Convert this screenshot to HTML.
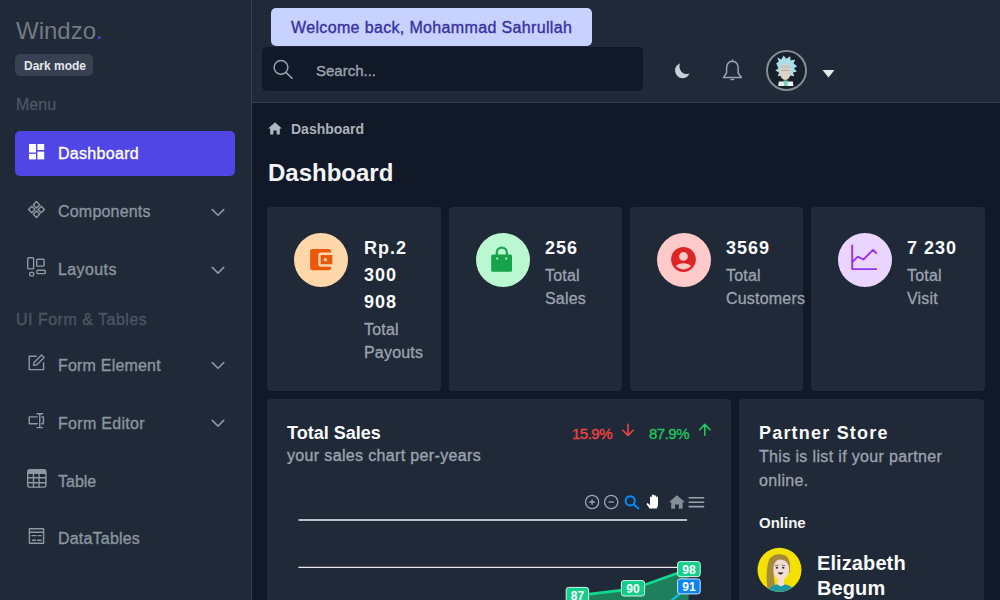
<!DOCTYPE html>
<html><head><meta charset="utf-8">
<style>
*{box-sizing:border-box;margin:0;padding:0}
html,body{width:1000px;height:600px;overflow:hidden;background:#111827;font-family:"Liberation Sans",sans-serif}
.t{position:absolute;line-height:1;white-space:nowrap}
.m{-webkit-text-stroke:0.35px currentColor}
.abs{position:absolute}
#side{position:absolute;left:0;top:0;width:252px;height:600px;background:#1f2937;border-right:1px solid #343d4a}
#head{position:absolute;left:252px;top:0;width:748px;height:103px;background:#1f2937;border-bottom:1px solid #343d4a}
.card{position:absolute;background:#1f2937;border-radius:4px}
.mi{color:#8b949f;font-size:16px;-webkit-text-stroke:0.35px currentColor}
.sec{color:#4b5563;font-size:16px;-webkit-text-stroke:0.35px currentColor}
.num{position:absolute;font-size:18px;font-weight:700;line-height:26.8px;color:#f9fafb;letter-spacing:1px}
.lbl{position:absolute;font-size:16px;line-height:22.6px;color:#9ca3af;letter-spacing:0.2px;-webkit-text-stroke:0.3px currentColor}
#ov{position:absolute;left:0;top:0;overflow:visible}
</style></head><body>
<div id="side">
  <div class="t" style="left:16px;top:19px;font-size:24px;color:#737a83">Windzo<span style="color:#4f46e5">.</span></div>
  <div class="abs" style="left:15px;top:54px;width:78px;height:22px;background:#374151;border-radius:5px"></div>
  <div class="t" style="left:24px;top:60px;font-size:12px;font-weight:700;color:#e5e7eb">Dark mode</div>
  <div class="t sec" style="left:16px;top:96.5px">Menu</div>
  <div class="abs" style="left:15px;top:131px;width:220px;height:45px;background:#4f46e5;border-radius:5px"></div>
  <div class="t mi" style="left:58px;top:146px;color:#fff;letter-spacing:0.3px">Dashboard</div>
  <div class="t mi" style="left:58px;top:204px;letter-spacing:0.2px">Components</div>
  <div class="t mi" style="left:58px;top:261.5px;letter-spacing:0.4px">Layouts</div>
  <div class="t sec" style="left:16px;top:311.5px;letter-spacing:0.5px">UI Form &amp; Tables</div>
  <div class="t mi" style="left:58px;top:357.5px;letter-spacing:0.2px">Form Element</div>
  <div class="t mi" style="left:58px;top:415.5px;letter-spacing:0.3px">Form Editor</div>
  <div class="t mi" style="left:58px;top:473.5px">Table</div>
  <div class="t mi" style="left:58px;top:530.5px;letter-spacing:0.2px">DataTables</div>
</div>
<div id="head">
  <div class="abs" style="left:19px;top:8px;width:321px;height:38px;background:#c7d2fe;border-radius:5px"></div>
  <div class="t m" style="left:39px;top:19.5px;font-size:16px;color:#3730a3;letter-spacing:0.35px">Welcome back, Mohammad Sahrullah</div>
  <div class="abs" style="left:10px;top:47px;width:381px;height:44px;background:#111827;border-radius:5px"></div>
  <div class="t m" style="left:64px;top:63px;font-size:15px;color:#9ca3af">Search...</div>
  <div class="abs" style="left:513.5px;top:49.6px;width:41px;height:41px;border-radius:50%;border:2px solid #858c94;background:#18202b"></div>
</div>
<div class="t" style="left:291px;top:122px;font-size:14px;font-weight:700;color:#aab1bb">Dashboard</div>
<div class="t" style="left:268px;top:160.7px;font-size:24px;font-weight:700;color:#f3f4f6">Dashboard</div>

<div class="card" style="left:267px;top:207px;width:174px;height:184px"></div>
<div class="card" style="left:449px;top:207px;width:173px;height:184px"></div>
<div class="card" style="left:630px;top:207px;width:173px;height:184px"></div>
<div class="card" style="left:811px;top:207px;width:174px;height:184px"></div>

<div class="abs" style="left:294px;top:233px;width:54px;height:54px;border-radius:50%;background:#fed7aa"></div>
<div class="abs" style="left:476px;top:233px;width:54px;height:54px;border-radius:50%;background:#bbf7d0"></div>
<div class="abs" style="left:657px;top:233px;width:54px;height:54px;border-radius:50%;background:#fecaca"></div>
<div class="abs" style="left:838px;top:233px;width:54px;height:54px;border-radius:50%;background:#e9d5ff"></div>

<div class="num" style="left:364px;top:235px">Rp.2<br>300<br>908</div>
<div class="lbl" style="left:364px;top:319.2px">Total<br>Payouts</div>
<div class="num" style="left:545px;top:235px">256</div>
<div class="lbl" style="left:545px;top:265.4px">Total<br>Sales</div>
<div class="num" style="left:726px;top:235px">3569</div>
<div class="lbl" style="left:726px;top:265.4px">Total<br>Customers</div>
<div class="num" style="left:907px;top:235px">7 230</div>
<div class="lbl" style="left:907px;top:265.4px">Total<br>Visit</div>

<div class="card" style="left:267px;top:399px;width:464px;height:220px"></div>
<div class="card" style="left:739px;top:399px;width:245px;height:220px"></div>

<div class="t" style="left:287px;top:423.8px;font-size:18px;font-weight:700;color:#f9fafb">Total Sales</div>
<div class="t m" style="left:287px;top:448px;font-size:16px;color:#9ca3af;letter-spacing:0.35px">your sales chart per-years</div>
<div class="t m" style="left:572px;top:426px;font-size:15px;color:#ef4444;letter-spacing:-0.5px">15.9%</div>
<div class="t m" style="left:649px;top:426px;font-size:15px;color:#22c55e;letter-spacing:-0.5px">87.9%</div>

<div class="t" style="left:759px;top:423.8px;font-size:18px;font-weight:700;color:#f9fafb;letter-spacing:1.2px">Partner Store</div>
<div class="lbl" style="left:759px;top:445px;line-height:23.5px;width:215px;white-space:normal;letter-spacing:0.35px">This is list if your partner<br>online.</div>
<div class="t" style="left:759px;top:515px;font-size:15px;font-weight:700;color:#f3f4f6">Online</div>
<div class="abs" style="left:817px;top:551px;font-size:20px;font-weight:700;line-height:24.75px;color:#f9fafb;letter-spacing:0.1px">Elizabeth<br>Begum</div>

<svg id="ov" width="1000" height="600" viewBox="0 0 1000 600">
  <!-- sidebar icons -->
  <g fill="#fff">
    <rect x="29" y="144" width="7" height="8.5"/>
    <rect x="29" y="153.8" width="7" height="5.6"/>
    <rect x="37.4" y="144" width="6.8" height="6"/>
    <rect x="37.4" y="151.6" width="6.8" height="7.8"/>
  </g>
  <g fill="none" stroke="#8e97a2" stroke-width="1.4" stroke-linejoin="round" stroke-linecap="round">
    <path d="M36.5 201.6 L39.7 204.8 L36.5 208 L33.3 204.8 Z M31.75 206.3 L34.95 209.5 L31.75 212.7 L28.55 209.5 Z M41.25 206.3 L44.45 209.5 L41.25 212.7 L38.05 209.5 Z M36.5 211 L39.7 214.2 L36.5 217.4 L33.3 214.2 Z"/>
    <rect x="27.7" y="257.7" width="5.9" height="11.2" rx="0.8"/>
    <rect x="36.7" y="259.2" width="7.4" height="6.9" rx="0.8"/>
    <rect x="29.7" y="272.4" width="3.9" height="3.5" rx="0.8"/>
    <rect x="36.9" y="270.2" width="8.4" height="3.4" rx="0.8"/>
    <path d="M36.2 356.2 H29.2 V369.6 H43.6 V362.6"/>
    <path d="M33.6 365.3 L34.1 362.4 L41.6 354.9 L44.1 357.4 L36.6 364.9 Z"/>
    <path d="M37.2 416.9 H29.2 V423.8 H37.2 M41.8 416.9 H43.4 V423.8 H41.8 M39.75 413.8 V427.6 M37 413.8 H42.6 M37 427.6 H42.6"/>
    <rect x="27.7" y="469.7" width="18.2" height="17.4" rx="2.2"/>
    <path d="M27.7 473.4 H45.9 M33.5 473.4 V487 M39.1 473.4 V487 M27.7 477.8 H45.9 M27.7 482.7 H45.9"/>
    <rect x="29.4" y="528.7" width="14.2" height="14.6"/>
    <path d="M29.4 532.3 H43.6 M32 535.6 H36 M38 535.6 H41 M32.5 540.3 H35.5 M37.5 540.3 H41.2"/>
  </g>
  <g fill="#fff" fill-opacity="0" stroke="none"></g>
  <rect x="27.7" y="469.7" width="18.2" height="3.7" rx="1.5" fill="#8e97a2"/>
  <g fill="none" stroke="#8e97a2" stroke-width="1.6" stroke-linecap="round" stroke-linejoin="round">
    <path d="M212.3 209.6 L218 215.3 L223.7 209.6"/>
    <path d="M212.3 267.4 L218 273.1 L223.7 267.4"/>
    <path d="M212.3 362.6 L218 368.3 L223.7 362.6"/>
    <path d="M212.3 420.4 L218 426.1 L223.7 420.4"/>
  </g>
  <!-- header icons -->
  <g fill="none" stroke="#9ca3af" stroke-width="1.5" stroke-linecap="round">
    <circle cx="281" cy="67.3" r="6.9"/>
    <path d="M286.2 72.6 L292 78.3"/>
    <path d="M732.4 61.2 C728.4 61.4 726.6 64.4 726.6 68.4 V73 L723.4 77.6 H741.4 L738.2 73 V68.4 C738.2 64.4 736.4 61.4 732.4 61.2 Z M732.4 61.2 V60" stroke-linejoin="round"/>
    <path d="M731.2 79.6 H733.6"/>
  </g>
  <mask id="moonm"><rect x="660" y="50" width="40" height="40" fill="#fff"/><circle cx="686.9" cy="66.6" r="7.5" fill="#000"/></mask><circle cx="682.6" cy="70.6" r="7.6" fill="#c9cfd8" mask="url(#moonm)"/>
  <path d="M822.5 70 H834.5 L828.5 77.6 Z" fill="#e5e7eb"/>
  <!-- rick -->
  <clipPath id="rkc"><circle cx="785.8" cy="70.1" r="19"/></clipPath>
  <g clip-path="url(#rkc)">
    <path d="M776.2 63.5 L778.8 61.6 L777.2 57.6 L781.4 59.4 L783.6 55.6 L786.2 58.8 L790.2 56.2 L790.6 60.4 L795.2 59.4 L793.6 63.6 L797.2 66.2 L794 68.2 L796.8 71.6 L793 72.4 L794.2 76.2 L790 75.4 L786 78 L782 75.4 L777.8 76.2 L779 72.4 L775.4 70.6 L778.4 68.2 Z" fill="#a9dde9"/>
    <path d="M785.3 63.4 C789 63.4 791 66 791 70.5 C791 75.8 788.6 80 785.3 80 C782 80 779.6 75.8 779.6 70.5 C779.6 66 781.6 63.4 785.3 63.4 Z" fill="#ddd3c6"/>
    <path d="M780.4 66.4 Q785.3 64.2 790.2 66.4 L790 68.4 Q785.3 66.6 780.6 68.4 Z" fill="#b9c4c4"/>
    <path d="M781 70.4 H789.6" stroke="#9a9a9a" stroke-width="0.7"/>
    <path d="M778.8 81.4 H792.8 L793.4 86 H778.2 Z" fill="#eef2f2"/>
    <path d="M783.6 80.6 H787.8 L787.4 86 H784 Z" fill="#7ad0b8"/>
  </g>
  <!-- breadcrumb home -->
  <path d="M275 122.2 L268.2 128.4 H270.2 V134.6 H273.4 V130.6 H276.6 V134.6 H279.8 V128.4 H281.8 Z" fill="#b0b7c2"/>
  <!-- card icons -->
  <path transform="translate(306.6 245.6) scale(1.17)" fill="#ea580c" d="M21 18v1c0 1.1-.9 2-2 2H5c-1.11 0-2-.9-2-2V5c0-1.1.89-2 2-2h14c1.1 0 2 .9 2 2v1h-9c-1.11 0-2 .9-2 2v8c0 1.1.89 2 2 2h9zm-9-2h10V8H12v8zm4-2.5c-.83 0-1.5-.67-1.5-1.5s.67-1.5 1.5-1.5 1.5.67 1.5 1.5-.67 1.5-1.5 1.5z"/>
  <g fill="#16a34a">
    <path d="M496.8 255 V252.6 A5 5 0 0 1 506.8 252.6 V255" fill="none" stroke="#16a34a" stroke-width="2.2"/>
    <rect x="491.2" y="254.4" width="20.8" height="17.4" rx="1.6"/>
  </g>
  <circle cx="497.2" cy="258.6" r="1.1" fill="#bbf7d0"/>
  <circle cx="506.3" cy="258.6" r="1.1" fill="#bbf7d0"/>
  <path transform="translate(668.6 244.6) scale(1.24)" fill="#dc2626" d="M12 2C6.48 2 2 6.48 2 12s4.48 10 10 10 10-4.48 10-10S17.52 2 12 2zm0 4c1.93 0 3.5 1.57 3.5 3.5S13.93 13 12 13s-3.5-1.57-3.5-3.5S10.07 6 12 6zm0 14c-2.03 0-4.43-.82-6.14-2.88C7.55 15.8 9.68 15 12 15s4.45.8 6.14 2.12C16.43 19.18 14.03 20 12 20z"/>
  <g fill="none" stroke="#9333ea" stroke-width="1.9" stroke-linecap="round" stroke-linejoin="round">
    <path d="M852.2 245.4 V269.1 H876.2"/>
    <path d="M852.7 261.6 L857.8 256.6 L863.4 259.5 L873 249.9 L876.2 253"/>
  </g>
  <!-- change arrows -->
  <g fill="none" stroke-width="1.6" stroke-linecap="round" stroke-linejoin="round">
    <path d="M628 424.2 V435.3 M622.8 430.2 L628 435.4 L633.2 430.2" stroke="#ef4444"/>
    <path d="M704.8 435.2 V424.5 M699.7 429.6 L704.8 424.4 L709.9 429.6" stroke="#22c55e"/>
  </g>
  <!-- chart toolbar -->
  <g fill="none" stroke="#9ca3af" stroke-width="1.3">
    <circle cx="592.1" cy="502" r="6.6"/>
    <path d="M592.1 499.2 V504.8 M589.3 502 H594.9"/>
    <circle cx="611.2" cy="502" r="6.6"/>
    <path d="M608.4 502 H614"/>
  </g>
  <g fill="none" stroke="#008ffb" stroke-width="2">
    <circle cx="630.2" cy="500.8" r="4.6"/>
    <path d="M633.6 504.3 L639 509"/>
  </g>
  <path d="M649.5 508.6 L646.4 504 L647.6 503.1 L650 505.1 V497.4 A1 1 0 0 1 652 497.4 V495.6 A1 1 0 0 1 654 495.6 V496.3 A1 1 0 0 1 656 496.3 V497.6 A1 1 0 0 1 658 497.6 V505.6 L656.8 508.6 Z" fill="#fff"/>
  <path d="M676.9 495.2 L668.8 502.2 H671.2 V508.8 H675 V504.6 H678.8 V508.8 H682.6 V502.2 H685 Z" fill="#858d97"/>
  <g stroke="#9ca3af" stroke-width="1.6">
    <path d="M688.6 497.8 H704.2 M688.6 502.3 H704.2 M688.6 506.6 H704.2"/>
  </g>
  <!-- chart grid + series -->
  <path d="M298.4 520 H687" stroke="#b9bec5" stroke-width="1.8"/>
  <path d="M298.4 567.4 H687" stroke="#e5e7eb" stroke-width="1.3"/>
  <path d="M521 650 L577 595.6 L633 589 L688.6 569.3 V601 Z" fill="#1d7f5c"/>
  <path d="M521 650 L577 595.6 L633 589 L688.6 569.3" fill="none" stroke="#13d98f" stroke-width="2.8"/>
  <path d="M671 601 L688.6 586.5" stroke="#16b6cf" stroke-width="2.6"/>
  <g font-family="Liberation Sans" font-weight="700" font-size="12" fill="#fff" text-anchor="middle">
    <rect x="566.2" y="587.4" width="22.4" height="15.4" rx="2.5" fill="#14cf8a" stroke="#d5f5e8" stroke-width="1"/>
    <text x="577.4" y="599.6">87</text>
    <rect x="621.4" y="580.6" width="23.2" height="15.4" rx="2.5" fill="#14cf8a" stroke="#d5f5e8" stroke-width="1"/>
    <text x="633" y="592.8">90</text>
    <rect x="677.6" y="561.6" width="22.6" height="15" rx="2.5" fill="#14cf8a" stroke="#d5f5e8" stroke-width="1"/>
    <text x="688.9" y="573.6">98</text>
    <rect x="677.6" y="578.9" width="22.6" height="15" rx="2.5" fill="#0a84f0" stroke="#cfe6fb" stroke-width="1"/>
    <text x="688.9" y="590.9">91</text>
  </g>
  <!-- partner avatar -->
  <clipPath id="avc"><circle cx="779.5" cy="569.8" r="22"/></clipPath>
  <circle cx="779.5" cy="569.8" r="22" fill="#f5e100"/>
  <g clip-path="url(#avc)">
    <path d="M767.5 589 C766 578 766.5 566 769 560 C772 554 781 553 786 556 C790 559 790.5 565 790 572 L786 575 L779 561 L774 566 C773 574 774 582 776 588 Z" fill="#a38a3c"/>
    <path d="M779.6 559.5 C785.5 559.5 789.2 563.5 789.2 569.5 C789.2 575.5 785.5 579.5 781 579.5 C776.5 579.5 773.4 575.5 773.4 569.5 C773.4 564 775.5 560 779.6 559.5 Z" fill="#f3dcd6"/>
    <path d="M777.5 577 H784 V586 H777.5 Z" fill="#f3dcd6"/>
    <path d="M766 595 C768 587 774 584.5 777.5 584.5 Q781 588 784.5 584.5 C789 584.5 794 587 796 595 Z" fill="#1b9aa6"/>
    <ellipse cx="776.9" cy="567.8" rx="1.3" ry="1" fill="#3a3550"/><ellipse cx="783.2" cy="567.8" rx="1.3" ry="1" fill="#3a3550"/><path d="M775 565.6 L778.6 565.2 M781.6 565.2 L785.2 565.6" stroke="#6b5a3a" stroke-width="0.8"/>
    <path d="M777.5 572.4 Q780.6 576.4 783.6 572.4 Z" fill="#2a2020"/>
  </g>
</svg>
</body></html>
